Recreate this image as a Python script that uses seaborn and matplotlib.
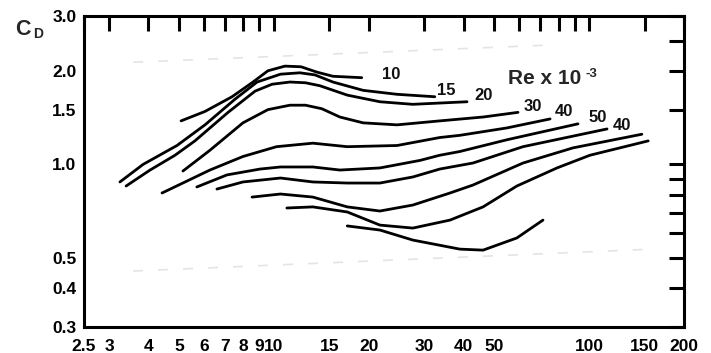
import matplotlib
matplotlib.use("Agg")
import matplotlib.pyplot as plt
import pandas as pd
import seaborn as sns
from matplotlib.ticker import FixedFormatter, FixedLocator, NullLocator

# curve data (x = abscissa, cd = drag coefficient)
RE10_X = [5.08, 6.05, 7.37, 8.59, 9.58, 10.85, 12.2, 13.7, 15.4, 19.0]
RE10_CD = [1.38, 1.48, 1.65, 1.84, 2.00, 2.07, 2.06, 1.98, 1.92, 1.90]

RE15_X = [3.25, 3.85, 4.93, 6.05, 7.53, 8.85, 10.5, 12.1, 13.5, 15.4, 19.2, 24.6, 32.4]
RE15_CD = [0.878, 1.00, 1.15, 1.34, 1.62, 1.84, 1.95, 1.97, 1.94, 1.84, 1.73, 1.68, 1.65]

RE20_X = [3.40, 4.05, 4.86, 5.62, 7.16, 8.72, 9.87, 11.25, 12.6, 14.0, 17.1, 21.7, 27.6, 41.0]
RE20_CD = [0.852, 0.959, 1.07, 1.19, 1.47, 1.72, 1.81, 1.84, 1.83, 1.79, 1.67, 1.59, 1.56, 1.59]

RE30_X = [5.15, 6.27, 7.98, 9.58, 11.25, 12.6, 14.2, 16.2, 19.2, 24.6, 33.6, 46.1, 59.5]
RE30_CD = [0.952, 1.11, 1.36, 1.50, 1.55, 1.55, 1.51, 1.42, 1.36, 1.34, 1.38, 1.42, 1.47]

RE40A_X = [4.42, 6.27, 7.98, 10.2, 13.3, 17.1, 24.6, 33.6, 38.9, 54.9, 75.2]
RE40A_CD = [0.809, 0.959, 1.06, 1.14, 1.17, 1.14, 1.15, 1.22, 1.24, 1.31, 1.40]

RE50_X = [5.70, 7.10, 9.04, 10.5, 13.3, 16.2, 21.7, 29.1, 33.6, 38.9, 54.9, 92.2]
RE50_CD = [0.846, 0.925, 0.966, 0.981, 0.981, 0.959, 0.974, 1.03, 1.07, 1.10, 1.20, 1.35]

RE40B_X = [6.60, 7.98, 10.5, 13.3, 17.1, 21.7, 27.6, 33.6, 42.8, 61.7, 114]
RE40B_CD = [0.833, 0.878, 0.904, 0.878, 0.871, 0.871, 0.911, 0.966, 1.01, 1.14, 1.30]

LOW1_X = [8.53, 10.5, 13.3, 17.1, 21.7, 27.6, 36.2, 42.8, 61.7, 88.9, 147]
LOW1_CD = [0.785, 0.803, 0.785, 0.730, 0.708, 0.740, 0.809, 0.858, 1.01, 1.13, 1.25]

LOW2_X = [11.0, 13.3, 17.1, 21.7, 27.6, 36.2, 46.1, 59.0, 79.1, 100.6, 154]
LOW2_CD = [0.724, 0.730, 0.703, 0.638, 0.624, 0.662, 0.730, 0.852, 0.974, 1.07, 1.19]

LOW3_X = [17.1, 21.7, 27.6, 38.9, 46.1, 59.0, 71.4]
LOW3_CD = [0.634, 0.615, 0.571, 0.534, 0.530, 0.580, 0.662]

CURVES = {
    "10": (RE10_X, RE10_CD),
    "15": (RE15_X, RE15_CD),
    "20": (RE20_X, RE20_CD),
    "30": (RE30_X, RE30_CD),
    "40a": (RE40A_X, RE40A_CD),
    "50": (RE50_X, RE50_CD),
    "40b": (RE40B_X, RE40B_CD),
    "low1": (LOW1_X, LOW1_CD),
    "low2": (LOW2_X, LOW2_CD),
    "low3": (LOW3_X, LOW3_CD),
}

# Re labels written at the end of the curves
LABEL_TEXT = ["10", "15", "20", "30", "40", "50", "40"]
LABEL_X = [23.5, 35.2, 46.4, 66.4, 83.2, 106.7, 127]
LABEL_Y = [1.94, 1.73, 1.66, 1.54, 1.48, 1.41, 1.33]

# faint dashed scan marks
FAINT_TOP_X = [3.58, 75.2]
FAINT_TOP_Y = [2.13, 2.42]
FAINT_BOT_X = [3.58, 159]
FAINT_BOT_Y = [0.454, 0.534]

X_TICKS = [2.5, 3, 4, 5, 6, 7, 8, 9, 10, 15, 20, 30, 40, 50, 60, 70, 80, 90, 100, 150, 200]
X_LABELS = ["2.5", "3", "4", "5", "6", "7", "8", "9", "10", "15", "20", "30", "40", "50",
            "", "", "", "", "100", "150", "200"]
Y_TICKS = [0.3, 0.4, 0.5, 0.6, 0.7, 0.8, 0.9, 1.0, 1.5, 2.0, 2.5, 3.0]
Y_LABELS = ["0.3", "0.4", "0.5", "", "", "", "", "1.0", "1.5", "2.0", "", "3.0"]

W, H = 711, 353


def build_frame() -> pd.DataFrame:
    rows = []
    for name, (xs, cds) in CURVES.items():
        for x, cd in zip(xs, cds):
            rows.append({"curve": name, "x": x, "cd": cd})
    return pd.DataFrame(rows)


def main() -> None:
    sns.set_theme(style="white")
    plt.rcParams["font.family"] = ["Liberation Sans", "DejaVu Sans"]
    plt.rcParams["font.weight"] = "bold"

    df = build_frame()

    fig = plt.figure(figsize=(W / 100, H / 100), dpi=100)
    ax = fig.add_axes([84 / W, 1 - 327 / H, 600 / W, 311 / H])

    ax.plot(FAINT_TOP_X, FAINT_TOP_Y, color="#e4e4e4", lw=1.2, ls=(0, (6, 9)))
    ax.plot(FAINT_BOT_X, FAINT_BOT_Y, color="#e4e4e4", lw=1.2, ls=(0, (6, 9)))

    sns.lineplot(
        data=df, x="x", y="cd", units="curve", estimator=None, sort=False,
        color="black", lw=2.0, ax=ax, solid_capstyle="round", solid_joinstyle="round",
    )

    ax.set_xscale("log")
    ax.set_yscale("log")
    ax.set_xlim(2.5, 200)
    ax.set_ylim(0.3, 3.0)
    ax.set_xlabel("")
    ax.set_ylabel("")

    ax.xaxis.set_major_locator(FixedLocator(X_TICKS))
    ax.xaxis.set_major_formatter(FixedFormatter(X_LABELS))
    ax.xaxis.set_minor_locator(NullLocator())
    ax.yaxis.set_major_locator(FixedLocator(Y_TICKS))
    ax.yaxis.set_major_formatter(FixedFormatter(Y_LABELS))
    ax.yaxis.set_minor_locator(NullLocator())

    ax.tick_params(which="major", direction="in", length=11, width=2.2, color="black",
                   top=True, right=True, labelsize=12.5, labelcolor="black")
    ax.tick_params(axis="x", pad=8.5)
    ax.tick_params(axis="y", pad=5.5)
    for lbl in ax.get_xticklabels() + ax.get_yticklabels():
        lbl.set_fontweight("bold")

    for spine in ax.spines.values():
        spine.set_visible(True)
        spine.set_color("black")
        spine.set_linewidth(2.2)

    for text, x, y in zip(LABEL_TEXT, LABEL_X, LABEL_Y):
        ax.text(x, y, text, ha="center", va="center", fontsize=12, fontweight="bold", color="#111111")

    # axis title C_D and the Re legend text
    fig.text(15 / W, 1 - 35 / H, "C", fontsize=15.5, fontweight="bold", va="baseline", ha="left")
    fig.text(33 / W, 1 - 38 / H, "D", fontsize=10, fontweight="bold", va="baseline", ha="left")
    fig.text(508 / W, 1 - 84 / H, "Re x 10", fontsize=15, fontweight="bold", va="baseline", ha="left")
    fig.text(585 / W, 1 - 77 / H, "-3", fontsize=9.5, fontweight="bold", va="baseline", ha="left")

    fig.savefig("out.png", dpi=100, facecolor="white")
    plt.close(fig)


if __name__ == "__main__":
    main()
